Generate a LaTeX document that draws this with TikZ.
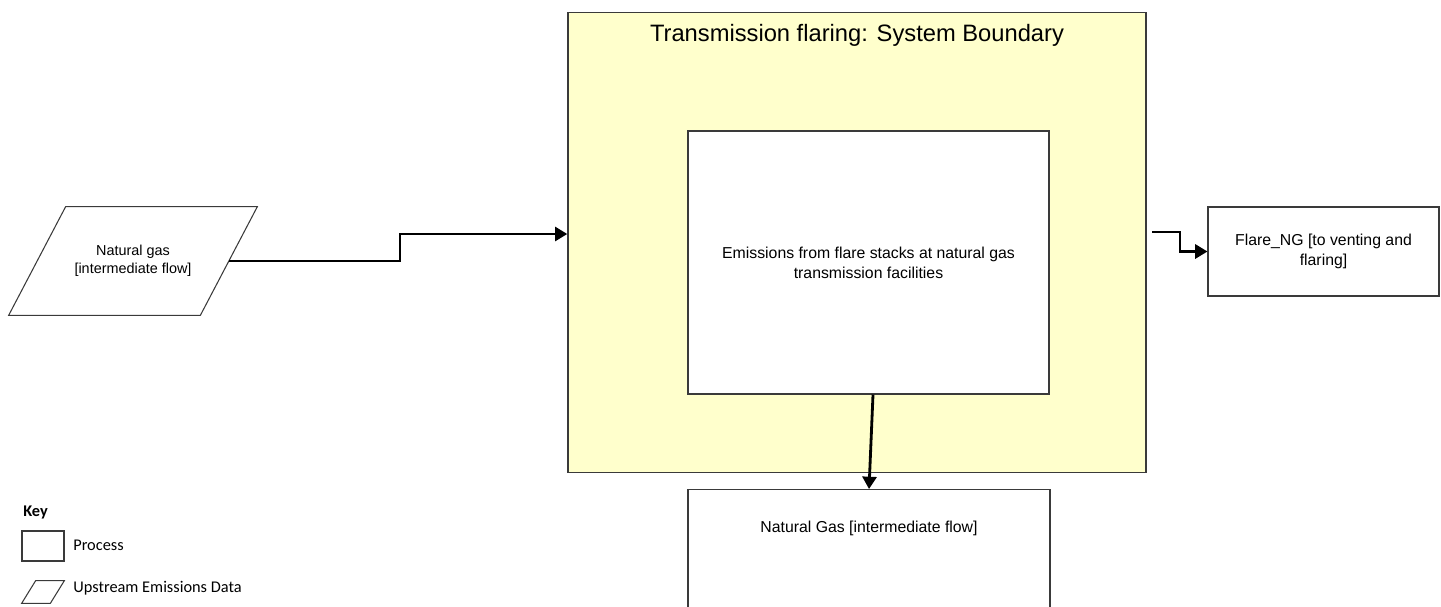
\documentclass[tikz,border=0pt]{standalone}
\usepackage{fontspec}
\setmainfont{Liberation Sans}
\newfontfamily\keyfont{Carlito}
\usetikzlibrary{arrows.meta}
\definecolor{bndyellow}{HTML}{FFFFCC}
\definecolor{edgegray}{HTML}{3A3A3A}
\tikzset{
    procbox/.style = {draw=edgegray, fill=white, line width=0.6pt, align=center,
        font=\fontsize{9}{11.5}\selectfont},
    datatext/.style = {align=center, inner sep=0pt, font=\fontsize{8.2}{10.5}\selectfont},
    dataedge/.style = {draw=edgegray, line width=0.6pt, line join=miter},
    bndbox/.style = {draw=edgegray, fill=bndyellow, line width=0.8pt},
    flowline/.style = {line width=1.6pt, -{Triangle[length=7pt,width=8pt]}},
    keytext/.style = {anchor=west, inner sep=0pt, font=\keyfont\fontsize{9.3}{11}\selectfont}
}
\begin{document}
\begin{tikzpicture}
    \useasboundingbox (0,0) rectangle (28.82,-12.12);

    % system boundary
    \node[bndbox, anchor=north, minimum width=11.56cm, text height=0.34cm,
        text depth=8.38cm, inner xsep=0pt, inner ysep=0.24cm,
        font=\fontsize{13.5}{16}\selectfont] (bound) at (17.14,-0.24)
        {Transmission flaring: System Boundary};
    \node[procbox, minimum width=7.22cm, minimum height=5.26cm] (emis) at (17.37,-5.25)
        {Emissions from flare stacks at natural gas\\transmission facilities};

    % input
    \node[datatext, minimum width=4.96cm, minimum height=2.16cm] (ngin) at (2.66,-5.22)
        {Natural gas\\{}[intermediate flow]};
    \draw[dataedge] ([xshift=1.14cm]ngin.north west) -- (ngin.north east)
        -- ([xshift=-1.14cm]ngin.south east) -- (ngin.south west) -- cycle;
    \coordinate(ngout) at ([xshift=-0.57cm]ngin.east);
    \coordinate(ngstep) at (8.0,-4.68);
    \draw [flowline] (ngout) -| (ngstep) -- (ngstep -| bound.west);

    % outputs
    \node[procbox, minimum width=4.62cm, minimum height=1.78cm] (flare) at (26.47,-5.03)
        {Flare\_NG [to venting and\\flaring]};
    \coordinate(flstart) at (23.04,-4.64);
    \coordinate(flbend) at (23.6,-4.64);
    \draw [flowline] (flstart) -- (flbend) |- (flare.west);

    \node[procbox, anchor=north, minimum width=7.24cm, text height=0.22cm,
        text depth=4cm, inner ysep=0.64cm] (gasout) at (17.38,-9.78)
        {Natural Gas [intermediate flow]};
    \draw [flowline] ([xshift=0.09cm]emis.south) -- (gasout.north);

    % key
    \node[keytext, font=\keyfont\bfseries\fontsize{9.3}{11}\selectfont] (keyhead) at (0.46,-10.24) {Key};
    \node[procbox, minimum width=0.84cm, minimum height=0.6cm, inner sep=1pt] (keyproc) at (0.86,-10.92) {};
    \node[keytext] (keyproctext) at (1.46,-10.9) {Process};
    \node[datatext, minimum width=0.84cm, minimum height=0.44cm] (keydata) at (0.86,-11.84) {};
    \draw[dataedge] ([xshift=0.28cm]keydata.north west) -- (keydata.north east)
        -- ([xshift=-0.28cm]keydata.south east) -- (keydata.south west) -- cycle;
    \node[keytext] (keydatatext) at (1.46,-11.76) {Upstream Emissions Data};
\end{tikzpicture}
\end{document}
